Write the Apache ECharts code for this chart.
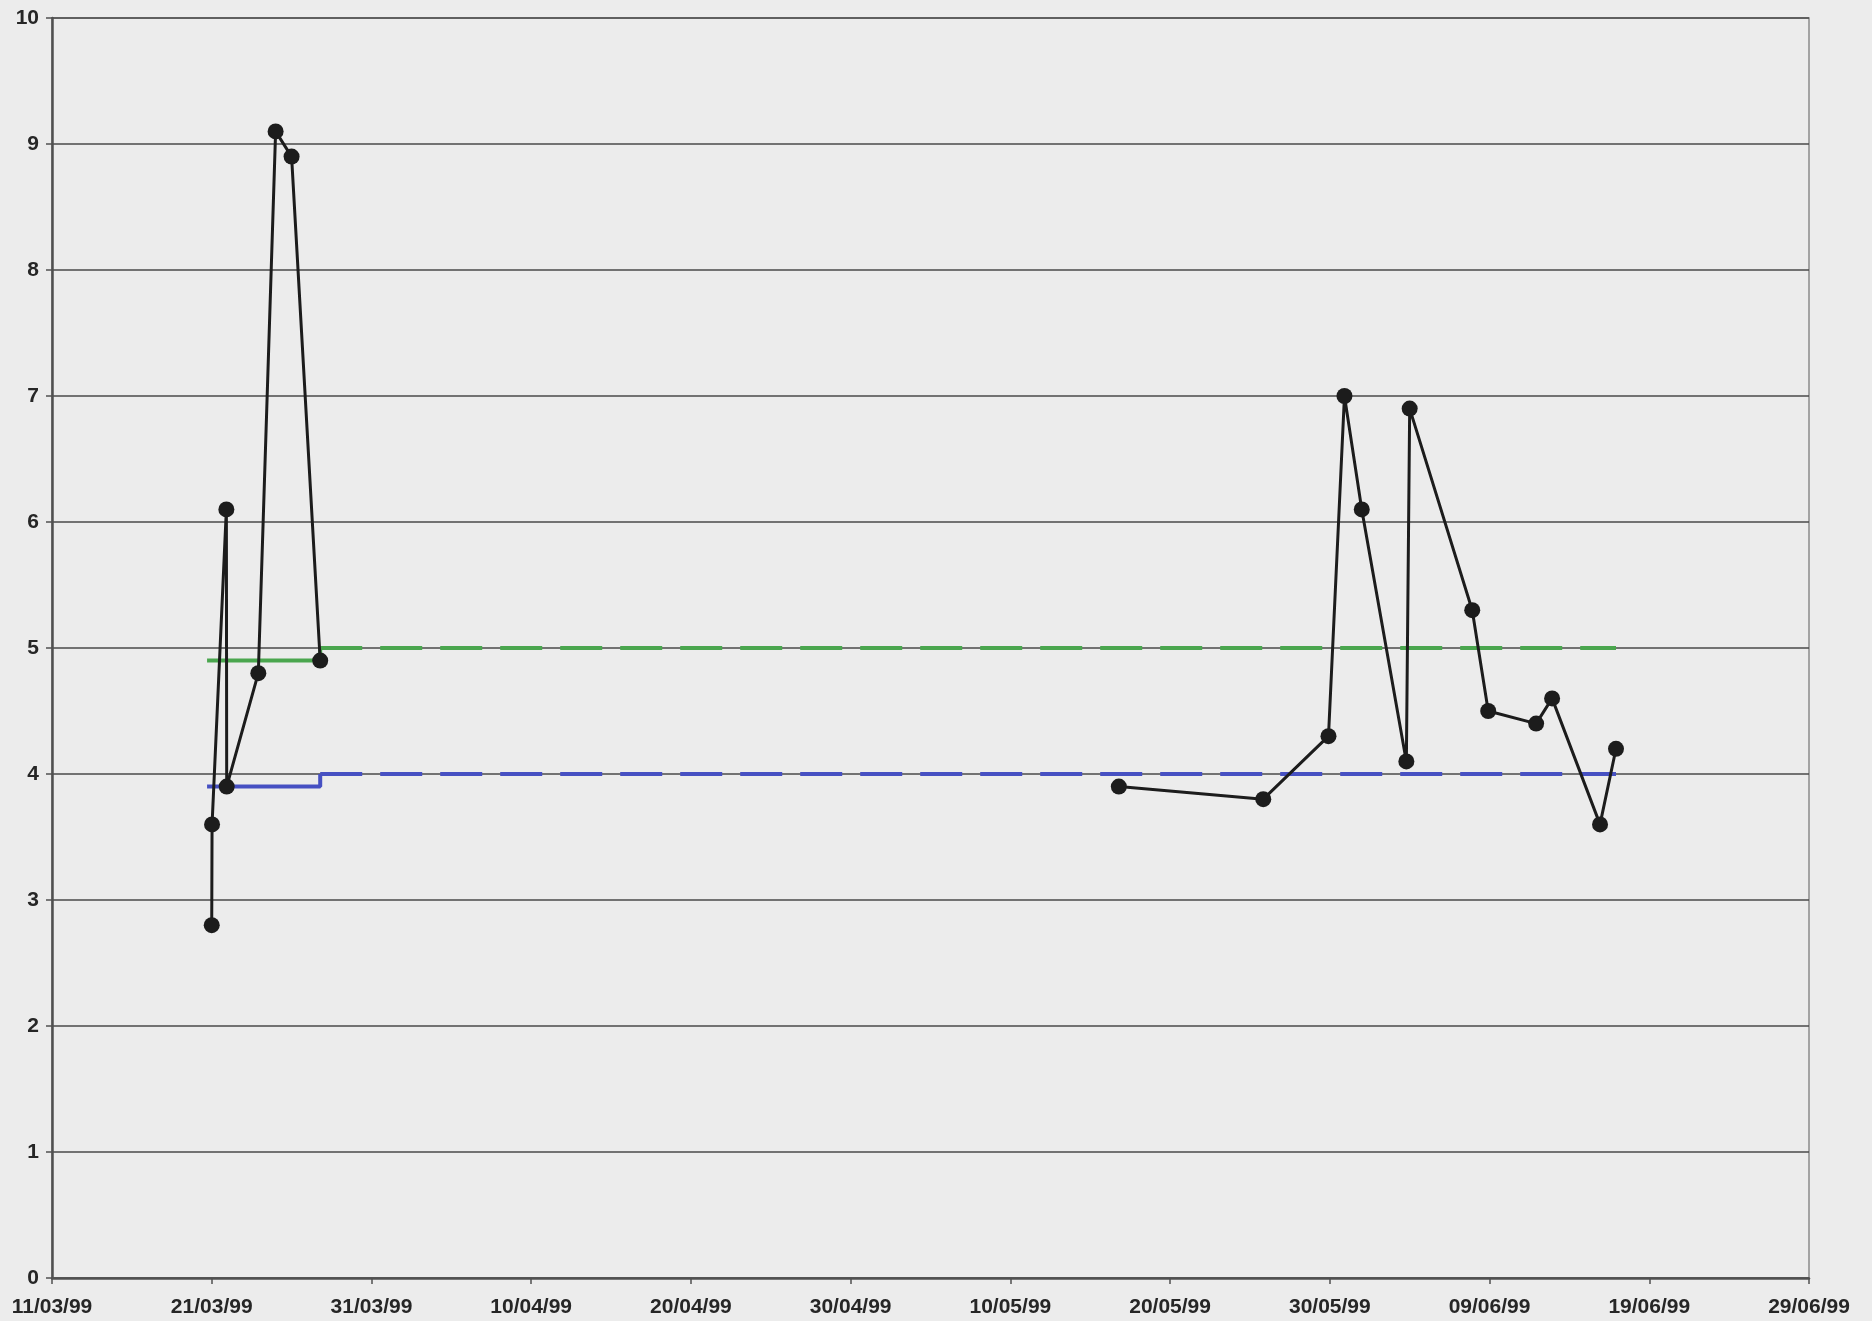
<!DOCTYPE html>
<html>
<head>
<meta charset="utf-8">
<title>pH</title>
<script src="https://cdn.jsdelivr.net/npm/echarts@6/dist/echarts.min.js"></script>
<style>
  html, body { margin: 0; padding: 0; background: #ececec; }
  #chart { width: 1872px; height: 1321px; }
</style>
</head>
<body>
<div id="chart"></div>
<script>
// Axis origin and tick spacing (days)
const axisStart = '1999-03-11T00:00';
const axisEndDays = 110;
const tickStepDays = 10;
const yMin = 0, yMax = 10, yStep = 1;

// March sampling campaign
const marchTimes = [
  '1999-03-21T00:00', '1999-03-21T00:30', '1999-03-21T22:00', '1999-03-21T22:30',
  '1999-03-23T22:00', '1999-03-25T00:00', '1999-03-26T00:00', '1999-03-27T19:00'
];
const marchValues = [2.8, 3.6, 6.1, 3.9, 4.8, 9.1, 8.9, 4.9];

// May-June sampling campaign
const mayJuneTimes = [
  '1999-05-16T19:00', '1999-05-25T20:00', '1999-05-29T22:00', '1999-05-30T22:00',
  '1999-06-01T00:00', '1999-06-03T19:00', '1999-06-04T00:00', '1999-06-07T22:00',
  '1999-06-08T22:00', '1999-06-11T22:00', '1999-06-12T22:00', '1999-06-15T22:00',
  '1999-06-16T22:00'
];
const mayJuneValues = [3.9, 3.8, 4.3, 7.0, 6.1, 4.1, 6.9, 5.3, 4.5, 4.4, 4.6, 3.6, 4.2];

// Limit lines: value changes at the second time, held to the last
const limitTimes = ['1999-03-20T17:00', '1999-03-27T19:00', '1999-06-16T22:00'];
const upperLimit = [4.9, 5.0, 5.0];
const lowerLimit = [3.9, 4.0, 4.0];

const DAY = 86400000;
const t0 = Date.parse(axisStart + 'Z');
const toDays = t => (Date.parse(t + 'Z') - t0) / DAY;
const pairs = (times, vals) => times.map((t, i) => [toDays(t), vals[i]]);

// One line, broken between the two campaigns
const measured = pairs(marchTimes, marchValues)
  .concat([[toDays(marchTimes[marchTimes.length - 1]) + 1, '-']])
  .concat(pairs(mayJuneTimes, mayJuneValues));

const upperPts = pairs(limitTimes, upperLimit);
const lowerPts = pairs(limitTimes, lowerLimit);

const pad = n => (n < 10 ? '0' : '') + n;
function dayLabel(d) {
  const dt = new Date(t0 + d * DAY);
  return pad(dt.getUTCDate()) + '/' + pad(dt.getUTCMonth() + 1) + '/' + String(dt.getUTCFullYear()).slice(2);
}

const GREEN = '#4aa64e';
const BLUE = '#4650c2';
const labelFont = {
  fontFamily: '"Liberation Sans", Arial, sans-serif',
  fontSize: 21, fontWeight: 'bold', color: '#262626'
};

const chart = echarts.init(document.getElementById('chart'), null, { renderer: 'canvas' });
chart.setOption({
  backgroundColor: '#ececec',
  animation: false,
  grid: {
    left: 52, right: 63, top: 18, bottom: 43,
    show: true, borderColor: '#8a8a8a', borderWidth: 1.5, backgroundColor: 'transparent'
  },
  xAxis: {
    type: 'value',
    min: 0, max: axisEndDays, interval: tickStepDays,
    axisLine: { show: true, onZero: false, lineStyle: { color: '#505050', width: 2.5 } },
    axisTick: { show: true, inside: false, length: 6, lineStyle: { color: '#505050', width: 1.5 } },
    axisLabel: Object.assign({ margin: 19, formatter: v => dayLabel(v) }, labelFont),
    splitLine: { show: false }
  },
  yAxis: {
    type: 'value',
    min: yMin, max: yMax, interval: yStep,
    axisLine: { show: true, lineStyle: { color: '#505050', width: 2.5 } },
    axisTick: { show: true, inside: false, length: 6, lineStyle: { color: '#505050', width: 1.5 } },
    axisLabel: Object.assign({ margin: 13 }, labelFont),
    splitLine: { show: true, lineStyle: { color: '#4a4a4a', width: 1.5 } }
  },
  series: [
    {
      type: 'line', step: 'end', data: upperPts.slice(0, 2),
      symbol: 'none', lineStyle: { color: GREEN, width: 4 }, z: 3
    },
    {
      type: 'line', data: upperPts.slice(1),
      symbol: 'none', lineStyle: { color: GREEN, width: 4, type: [42, 18] }, z: 3
    },
    {
      type: 'line', step: 'end', data: lowerPts.slice(0, 2),
      symbol: 'none', lineStyle: { color: BLUE, width: 4 }, z: 3
    },
    {
      type: 'line', data: lowerPts.slice(1),
      symbol: 'none', lineStyle: { color: BLUE, width: 4, type: [42, 18] }, z: 3
    },
    {
      type: 'line', data: measured, connectNulls: false,
      symbol: 'circle', symbolSize: 16,
      itemStyle: { color: '#1c1c1c', borderWidth: 0 },
      lineStyle: { color: '#1c1c1c', width: 3 }, z: 5
    }
  ]
});
</script>
</body>
</html>
